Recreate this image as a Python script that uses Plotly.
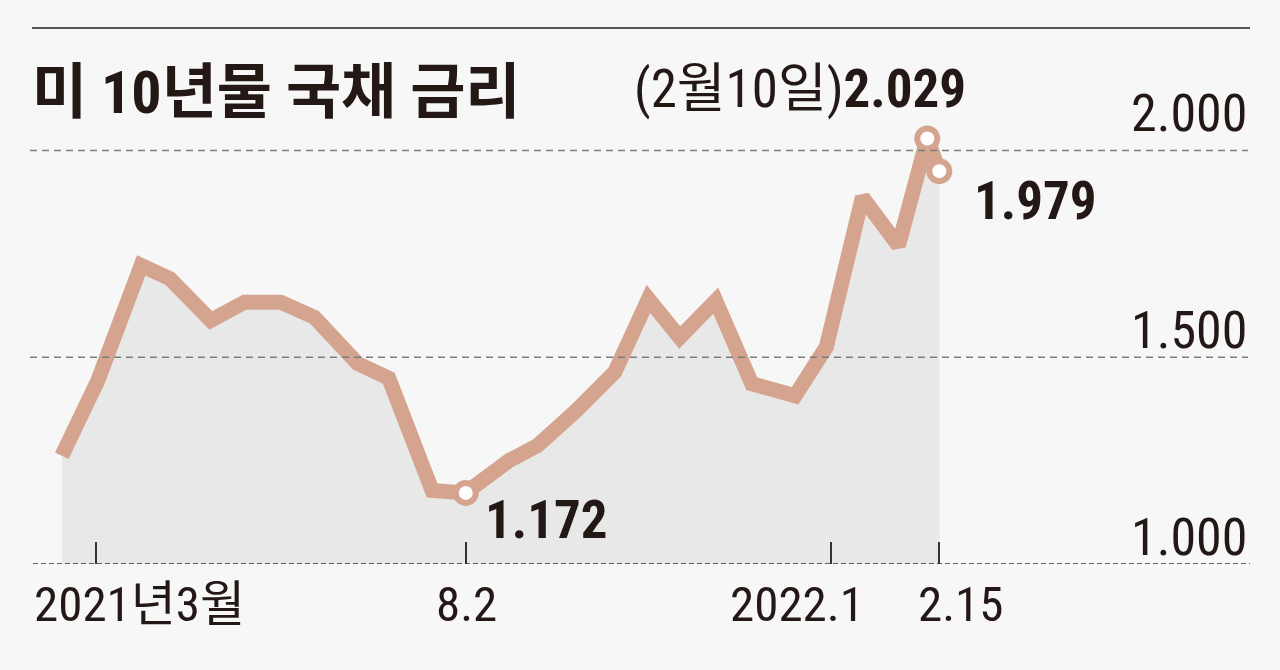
import datetime as dt
import plotly.graph_objects as go

# ---------------- data ----------------
dates = ["2021-02-15", "2021-03-02", "2021-03-20", "2021-04-01", "2021-04-18",
         "2021-05-02", "2021-05-17", "2021-05-31", "2021-06-18", "2021-07-01",
         "2021-07-19", "2021-08-02", "2021-08-20", "2021-09-01", "2021-09-17",
         "2021-10-03", "2021-10-17", "2021-10-30", "2021-11-14", "2021-11-29",
         "2021-12-17", "2021-12-30", "2022-01-14", "2022-01-29", "2022-02-10",
         "2022-02-15"]
yields = [1.262, 1.444, 1.722, 1.690, 1.589, 1.633, 1.633, 1.597, 1.485, 1.449,
          1.178, 1.172, 1.250, 1.287, 1.371, 1.464, 1.641, 1.548, 1.637, 1.436,
          1.407, 1.525, 1.887, 1.770, 2.029, 1.950]
highlight_idx = [11, 24, 25]
highlight_text = ["<b>1.172</b>", "(2월10일)<b>2.029</b>", "<b>1.979</b>"]

x_tick_vals = ["2021-03-01", "2021-08-02", "2022-01-01", "2022-02-15"]
x_tick_text = ["2021년3월", "8.2", "2022.1", "2.15"]
y_tick_vals = [1.0, 1.5, 2.0]
y_tick_text = ["1.000", "1.500", "2.000"]
title_text = "미 10년물 국채 금리"

# ---------------- style / layout ----------------
W, H = 1280, 670
PL, PR, PT, PB = 32, 1250, 100, 564          # plot area in pixels
BG = "#F7F7F7"
LINE = "#D4A48E"
INK = "#231815"
FONT = "Roboto Condensed, Noto Sans CJK KR, sans-serif"

day0 = dt.datetime(2021, 3, 1)
px_per_day = 2.404
day0_px = 95.5
x_lo = day0 + dt.timedelta(days=(PL - day0_px) / px_per_day)
x_hi = day0 + dt.timedelta(days=(PR - day0_px) / px_per_day)
px_per_unit = 413.5
y_lo = 1.0
y_hi = y_lo + (PB - PT) / px_per_unit


def pxx(p):
    return (p - PL) / (PR - PL)


def pxy(p):
    return (PB - p) / (PB - PT)


fig = go.Figure()
fig.add_trace(go.Scatter(
    x=dates, y=yields, mode="lines",
    line=dict(color=LINE, width=15),
    fill="tozeroy", fillcolor="rgba(0,0,0,0.058)",
    hoverinfo="skip", showlegend=False))
fig.add_trace(go.Scatter(
    x=[dates[i] for i in highlight_idx], y=[yields[i] for i in highlight_idx],
    mode="markers",
    marker=dict(size=20, color="white", line=dict(color=LINE, width=6)),
    hoverinfo="skip", showlegend=False))

shapes = []
# top rule
shapes.append(dict(type="line", xref="paper", yref="paper",
                   x0=pxx(32), x1=pxx(1250), y0=pxy(28), y1=pxy(28),
                   line=dict(color="#222222", width=1.6)))
# gridlines
for v in y_tick_vals:
    if v == y_lo:
        shapes.append(dict(type="line", xref="paper", yref="y", x0=pxx(33), x1=1,
                           y0=v, y1=v, layer="above",
                           line=dict(color="#333333", width=1.6, dash="5px,3px")))
    else:
        shapes.append(dict(type="line", xref="paper", yref="y", x0=pxx(30), x1=pxx(1248),
                           y0=v, y1=v, layer="above",
                           line=dict(color="#7d7d7d", width=1.6, dash="7px,5px")))

annotations = []
annotations.append(dict(text="<b>" + title_text + "</b>", xref="paper", yref="paper",
                        x=pxx(30), y=pxy(93), xanchor="left", yanchor="middle",
                        showarrow=False, font=dict(family=FONT, size=60, color=INK)))
# y labels
y_label_center_px = {1.0: 537, 1.5: 330, 2.0: 113}
for v, t in zip(y_tick_vals, y_tick_text):
    annotations.append(dict(text=t, xref="paper", yref="paper", x=pxx(1249),
                            y=pxy(y_label_center_px[v]), xanchor="right", yanchor="middle",
                            showarrow=False, font=dict(family=FONT, size=52, color=INK)))
# x labels
x_label_center_px = [139, 466, 797, 961]
for t, cx in zip(x_tick_text, x_label_center_px):
    annotations.append(dict(text=t, xref="paper", yref="paper", x=pxx(cx), y=pxy(604),
                            xanchor="center", yanchor="middle", showarrow=False,
                            font=dict(family=FONT, size=49, color=INK)))
# point labels
label_pos = [(483, 520, "left"), (968, 89, "right"), (972, 201, "left")]
for (lx, ly, anc), t in zip(label_pos, highlight_text):
    annotations.append(dict(text=t, xref="paper", yref="paper", x=pxx(lx), y=pxy(ly),
                            xanchor=anc, yanchor="middle", showarrow=False,
                            font=dict(family=FONT, size=53, color=INK)))

fig.update_layout(
    width=W, height=H, paper_bgcolor=BG, plot_bgcolor=BG,
    margin=dict(l=PL, r=W - PR, t=PT, b=H - PB, pad=0),
    showlegend=False, shapes=shapes, annotations=annotations,
    xaxis=dict(type="date", range=[x_lo, x_hi], showgrid=False, zeroline=False,
               showline=False, tickvals=x_tick_vals, ticktext=x_tick_text,
               showticklabels=False, ticks="inside", ticklen=22, tickwidth=1.6,
               tickcolor="#333333", fixedrange=True),
    yaxis=dict(range=[y_lo, y_hi], showgrid=False, zeroline=False, showline=False,
               showticklabels=False, ticks="", fixedrange=True),
)
fig.write_html("out.html", config={"displayModeBar": False},
               post_script="document.body.style.margin='0';"
                           "document.body.style.background='" + BG + "';")
